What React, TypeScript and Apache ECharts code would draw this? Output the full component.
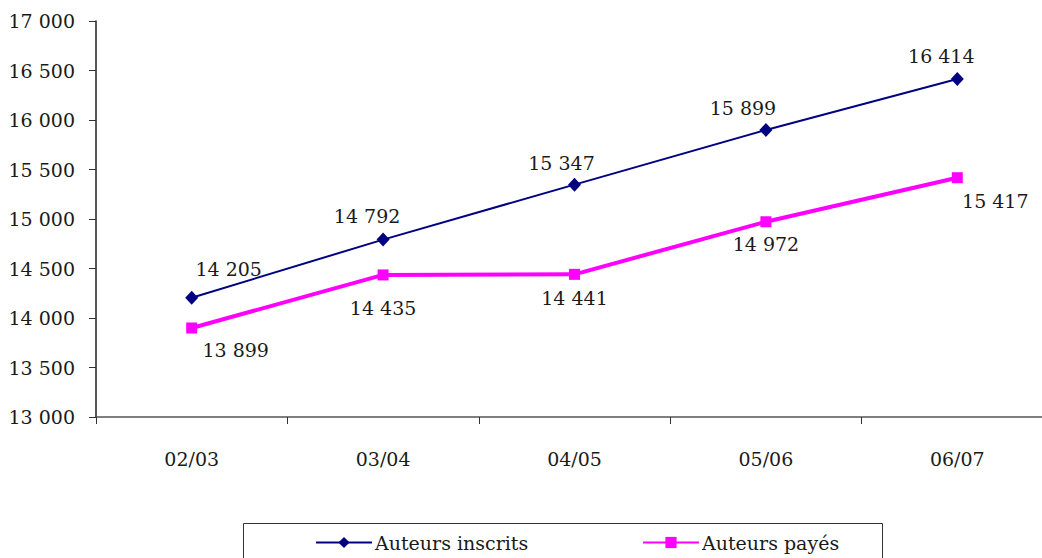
import React, { useEffect, useRef } from "react";
import * as echarts from "echarts";

const categories = ["02/03", "03/04", "04/05", "05/06", "06/07"];
const inscrits = [14205, 14792, 15347, 15899, 16414];
const payes = [13899, 14435, 14441, 14972, 15417];
const inscritsOffsets = [[37, -7], [-16, -2], [-13, 0], [-23, 0], [-16, -2]];
const payesOffsets = [[44, 2], [0, 13], [0, 4], [0, 2], [38, 3]];

const FONT = "DejaVu Serif";
const fmt = (v: number) => {
  const s = String(Math.round(v));
  return s.replace(/\B(?=(\d{3})+(?!\d))/g, " ");
};

export default function App() {
  const ref = useRef<HTMLDivElement>(null);
  useEffect(() => {
    if (!ref.current) return;
    const chart = echarts.init(ref.current, undefined, { renderer: "svg" });
    const labelStyle = { fontFamily: FONT, fontSize: 19, color: "#1a1a1a" };
    chart.setOption({
      animation: false,
      textStyle: { fontFamily: FONT },
      grid: { left: 96, top: 21, width: 957, height: 396 },
      xAxis: {
        type: "category",
        data: categories,
        boundaryGap: true,
        axisLine: { lineStyle: { color: "#555", width: 1.5 } },
        axisTick: { show: true, length: 7, inside: false, lineStyle: { color: "#333" } },
        axisLabel: { ...labelStyle, margin: 32 },
      },
      yAxis: {
        type: "value",
        min: 13000,
        max: 17000,
        interval: 500,
        axisLine: { show: true, lineStyle: { color: "#222", width: 1.5 } },
        axisTick: { show: true, length: 7, lineStyle: { color: "#333" } },
        splitLine: { show: false },
        axisLabel: { ...labelStyle, margin: 21, formatter: fmt },
      },
      legend: [
        {
          left: 310,
          top: 528,
          itemWidth: 56,
          itemHeight: 14,
          itemGap: 0,
          data: ["Auteurs inscrits"],
          textStyle: { ...labelStyle, padding: [0, 0, 0, -2] },
        },
        {
          left: 637,
          top: 528,
          itemWidth: 56,
          itemHeight: 14,
          data: ["Auteurs payés"],
          textStyle: { ...labelStyle, padding: [0, 0, 0, -2] },
        },
      ],
      graphic: [
        {
          type: "rect",
          shape: { x: 243.5, y: 523.5, width: 639, height: 60 },
          style: { fill: "none", stroke: "#333", lineWidth: 1 },
          silent: true,
        },
      ],
      series: [
        {
          name: "Auteurs inscrits",
          type: "line",
          data: inscrits.map((v, i) => ({
            value: v,
            label: { offset: inscritsOffsets[i] },
          })),
          symbol: "diamond",
          symbolSize: [13, 14],
          itemStyle: { color: "#000080" },
          lineStyle: { color: "#000080", width: 2 },
          label: { show: true, position: "top", formatter: (p: any) => fmt(p.value), ...labelStyle },
        },
        {
          name: "Auteurs payés",
          type: "line",
          data: payes.map((v, i) => ({
            value: v,
            label: { offset: payesOffsets[i] },
          })),
          symbol: "rect",
          symbolSize: 11,
          itemStyle: { color: "#FF00FF" },
          lineStyle: { color: "#FF00FF", width: 4 },
          label: { show: true, position: "bottom", formatter: (p: any) => fmt(p.value), ...labelStyle },
        },
      ],
    });
    return () => chart.dispose();
  }, []);
  return (
    <div style={{ position: "fixed", left: 0, top: 0, width: 1042, height: 558, overflow: "hidden", background: "#fff" }}>
      <div ref={ref} style={{ width: 1100, height: 558 }} />
    </div>
  );
}
